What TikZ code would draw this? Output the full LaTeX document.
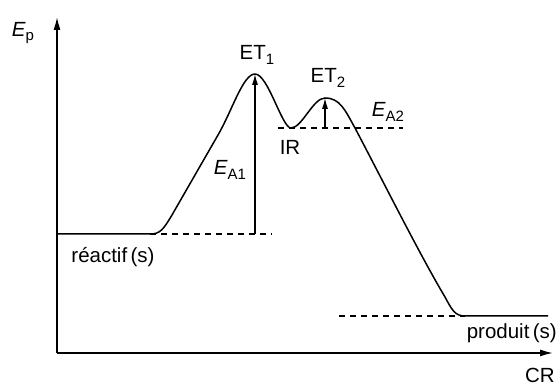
\documentclass[tikz,border=0pt]{standalone}
\usepackage{fontspec}
\setmainfont{Liberation Sans}
\usetikzlibrary{arrows.meta}
\newcommand\lowidx[1]{\raisebox{-0.4ex}{\fontsize{15}{15}\selectfont #1}}
\begin{document}
\begin{tikzpicture}[x=1pt,y=1pt,
    axis/.style={line width=1.5pt,-{Latex[length=13pt,width=7pt]}},
    profile/.style={line width=1.5pt,line join=round},
    level/.style={line width=1.3pt,dash pattern=on 6pt off 5pt},
    barrier/.style={line width=1.1pt,-{Latex[length=11pt,width=6pt]}},
    lbl/.style={inner sep=1pt,font=\fontsize{20.5}{24}\selectfont}]
\useasboundingbox (0,0) rectangle (558,385);
% axes
\coordinate (O) at (57,32);
\coordinate (ytip) at (57,368);
\coordinate (xtip) at (553,32);
\draw[axis] (O) -- (ytip);
\draw[axis] (O) -- (xtip);
\node[lbl] (Ep) at (23,352) {{\itshape E}\lowidx{p}};
\node[lbl] (CR) at (540,10) {CR};
% energy profile
\coordinate (R0) at (57,151);
\coordinate (R1) at (150,151);
\coordinate (TS1) at (255,311);
\coordinate (IR) at (291,257);
\coordinate (TS2) at (325,287);
\coordinate (P0) at (465,69);
\coordinate (P1) at (548,69);
\draw[profile] (R0) -- (R1)
    .. controls (160,151) and (163,155) .. (172,170) -- (218,250)
    .. controls (232,274) and (243,311) .. (TS1)
    .. controls (268,311) and (282,257) .. (IR)
    .. controls (302,257) and (313,287) .. (TS2)
    .. controls (340,287) and (345,275) .. (355,257)
    .. controls (385,200) and (420,130) .. (445,88)
    .. controls (452,75) and (455,69) .. (P0) -- (P1);
% reference levels
\coordinate (Rd) at (272,151);
\coordinate (IRa) at (278,257);
\coordinate (IRb) at (403,257);
\coordinate (Pd) at (339,69);
\draw[level] (R1) -- (Rd);
\draw[level] (IRa) -- (IRb);
\draw[level] (Pd) -- (P0);
% activation energies
\coordinate (A1) at (255,151);
\coordinate (A2) at (325,257);
\draw[barrier] (A1) -- (TS1);
\draw[barrier] (A2) -- (TS2);
% labels
\node[lbl] (ET1) at (257,330) {ET\lowidx{1}};
\node[lbl] (ET2) at (328,307) {ET\lowidx{2}};
\node[lbl] (IRl) at (290,238) {IR};
\node[lbl] (EA1) at (230,215) {{\itshape E}\lowidx{A1}};
\node[lbl] (EA2) at (388,273) {{\itshape E}\lowidx{A2}};
\node[lbl] (reac) at (113,128) {réactif\,(s)};
\node[lbl,anchor=east] (prod) at (558,52) {produit\,(s)};
\end{tikzpicture}
\end{document}
